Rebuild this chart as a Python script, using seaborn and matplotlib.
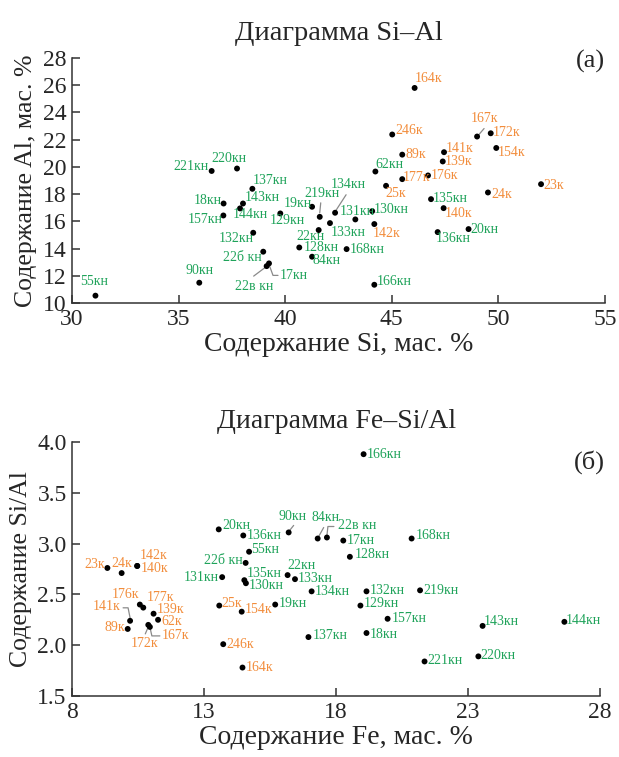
import numpy as np
import pandas as pd
import seaborn as sns
import matplotlib
matplotlib.use("Agg")
import matplotlib.pyplot as plt
import matplotlib.transforms as mtransforms
from matplotlib.lines import Line2D

sns.set_style("ticks")
plt.rcParams['font.family'] = ['Liberation Serif', 'DejaVu Serif']

GREEN = '#1fa35a'
ORANGE = '#f28d3c'

# (а) Si - Al
labels_a = ['221кн', '220кн', '164к', '246к', '167к', '172к', '154к', '89к', '141к', '139к',
            '62кн', '177к', '176к', '137кн', '18кн', '143кн', '144кн', '157кн', '129кн', '19кн',
            '219кн', '134кн', '132кн', '22кн', '133кн', '131кн', '130кн', '142к', '168кн', '166кн',
            '25к', '135кн', '140к', '136кн', '20кн', '24к', '23к', '22б кн', '22в кн', '17кн',
            '128кн', '84кн', '90кн', '55кн']
si_a = [36.55, 37.74, 46.07, 45.02, 49.00, 49.64, 49.90, 45.49, 47.45, 47.39,
        44.23, 45.49, 46.70, 38.46, 37.11, 38.02, 37.88, 37.10, 39.77, 41.26,
        41.62, 42.34, 38.50, 41.57, 42.10, 43.29, 44.08, 44.18, 42.88, 44.18,
        44.73, 46.84, 47.43, 47.15, 48.60, 49.51, 52.00, 38.97, 39.13, 39.24,
        40.66, 41.26, 35.97, 31.10]
al_a = [19.70, 19.88, 25.80, 22.38, 22.23, 22.47, 21.39, 20.90, 21.08, 20.40,
        19.66, 19.10, 19.37, 18.39, 17.31, 17.31, 16.95, 16.43, 16.58, 17.07,
        16.33, 16.63, 15.16, 15.36, 15.87, 16.14, 16.75, 15.80, 13.96, 11.34,
        18.61, 17.63, 16.97, 15.21, 15.43, 18.12, 18.73, 13.77, 12.71, 12.91,
        14.08, 13.40, 11.49, 10.54]

# (б) Fe - Si/Al
labels_b = ['20кн', '136кн', '55кн', '23к', '24к', '142к', '140к', '22б кн', '131кн', '135кн',
            '130кн', '176к', '177к', '139к', '62к', '141к', '89к', '172к', '167к', '25к',
            '154к', '246к', '164к', '166кн', '90кн', '84кн', '22в кн', '17кн', '128кн', '22кн',
            '133кн', '134кн', '132кн', '129кн', '19кн', '137кн', '18кн', '157кн', '219кн', '168кн',
            '221кн', '220кн', '143кн', '144кн']
fe_b = [13.55, 14.48, 14.70, 9.33, 9.87, 10.46, 10.46, 14.57, 13.68, 14.52,
        14.58, 10.56, 10.69, 11.08, 11.25, 10.19, 10.10, 10.88, 10.94, 13.57,
        14.42, 13.72, 14.45, 19.04, 16.20, 17.30, 17.65, 18.27, 18.52, 16.16,
        16.44, 17.07, 19.15, 18.92, 15.69, 16.95, 19.15, 19.95, 21.18, 20.86,
        21.35, 23.39, 23.55, 26.65]
ratio_b = [3.14, 3.08, 2.92, 2.76, 2.71, 2.78, 2.78, 2.81, 2.67, 2.64,
           2.61, 2.40, 2.37, 2.31, 2.25, 2.24, 2.16, 2.20, 2.18, 2.39,
           2.33, 2.01, 1.78, 3.88, 3.11, 3.05, 3.06, 3.03, 2.87, 2.69,
           2.65, 2.53, 2.53, 2.39, 2.40, 2.08, 2.12, 2.26, 2.54, 3.05,
           1.84, 1.89, 2.19, 2.23]

# label placement: (dx, dy, ha) in pixels, dy downwards
offsets_a = {
    '221кн': (-3, -4, 'right'), '220кн': (-8, -10, 'center'), '164к': (0, -9, 'left'),
    '246к': (3, -4, 'left'), '167к': (7, -18, 'center'), '172к': (2, -1, 'left'),
    '154к': (1, 5, 'left'), '89к': (3, 0, 'left'), '141к': (2, -4, 'left'),
    '139к': (2, 0, 'left'), '62кн': (0, -7, 'left'), '177к': (0, -2, 'left'),
    '176к': (3, 0, 'left'), '137кн': (0, -8, 'left'), '18кн': (-2, -3, 'right'),
    '143кн': (2, -6, 'left'), '144кн': (10, 6, 'center'), '157кн': (-1, 4, 'right'),
    '129кн': (7, 7, 'center'), '19кн': (0, -3, 'right'), '219кн': (2, -23, 'center'),
    '134кн': (13.5, -28.7, 'center'), '132кн': (1, 6, 'right'), '22кн': (-8, 6, 'center'),
    '133кн': (1, 9, 'left'), '131кн': (2, -8, 'center'), '130кн': (2, -2, 'left'),
    '142к': (-2, 9, 'left'), '168кн': (3, 0, 'left'), '166кн': (2, -3, 'left'),
    '25к': (-1, 8, 'left'), '135кн': (2, -1, 'left'), '140к': (1, 5, 'left'),
    '136кн': (-2, 6, 'left'), '20кн': (2, 0, 'left'), '24к': (3, 2, 'left'),
    '23к': (2, 1, 'left'), '22б кн': (-1, 6, 'right'), '22в кн': (-12, 20, 'center'),
    '17кн': (11, 12, 'left'), '128кн': (4, 0, 'left'), '84кн': (0, 4, 'left'),
    '90кн': (0, -12, 'center'), '55кн': (-1, -14, 'center'),
}
leaders_a = {
    '167к': [(1, -1), (7, -8)],
    '219кн': [(0, -4), (1, -14)],
    '134кн': [(0, -1), (11, -18)],
    '17кн': [(0, 1), (4, 12), (9, 12)],
    '22в кн': [(-1, 1), (-13, 10)],
}
offsets_b = {
    '20кн': (4, -4, 'left'), '136кн': (3, 0, 'left'), '55кн': (2, -2, 'left'),
    '23к': (-2, -3, 'right'), '24к': (0, -10, 'center'), '142к': (3, -10, 'left'),
    '140к': (4, 3, 'left'), '22б кн': (-3, -2, 'right'), '131кн': (-3, 0, 'right'),
    '135кн': (2, -7, 'left'), '130кн': (3, 2, 'left'), '176к': (-1, -10, 'right'),
    '177к': (3, -10, 'left'), '139к': (3, -4, 'left'), '62к': (3, 2, 'left'),
    '141к': (-10, -14, 'right'), '89к': (-3, -1, 'right'), '172к': (-4, 19, 'center'),
    '167к': (12, 9, 'left'), '25к': (2, -2, 'left'), '154к': (3, -2, 'left'),
    '246к': (3, 0, 'left'), '164к': (3, 0, 'left'), '166кн': (3, 0, 'left'),
    '90кн': (4, -16, 'center'), '84кн': (8, -21, 'center'), '22в кн': (11, -12, 'left'),
    '17кн': (3, 0, 'left'), '128кн': (5, -2, 'left'), '22кн': (0, -10, 'left'),
    '133кн': (3, -1, 'left'), '134кн': (3, 0, 'left'), '132кн': (3, -1, 'left'),
    '129кн': (3, -2, 'left'), '19кн': (4, -1, 'left'), '137кн': (4, -2, 'left'),
    '18кн': (3, 1, 'left'), '157кн': (4, 0, 'left'), '219кн': (3, 0, 'left'),
    '168кн': (4, -3, 'left'), '221кн': (3, -1, 'left'), '220кн': (2, -1, 'left'),
    '143кн': (1, -4, 'left'), '144кн': (1, -1, 'left'),
}
leaders_b = {
    '141к': [(-7, -13), (-2, -13), (0, -3)],
    '167к': [(0, 0), (2, 9), (10, 9)],
    '172к': [(-3, 9), (0, 2)],
    '90кн': [(1, -2), (5, -7)],
    '84кн': [(1, -2), (6, -11)],
    '22в кн': [(0, -2), (1, -11), (7, -11)],
}


def draw(ax, df, xcol, ycol, offsets, leaders):
    sns.scatterplot(data=df, x=xcol, y=ycol, color='black', s=18, edgecolor='none',
                    ax=ax, legend=False, zorder=3)
    for _, r in df.iterrows():
        lab = r['label']
        c = GREEN if lab.endswith('кн') else ORANGE
        dx, dy, ha = offsets[lab]
        ax.annotate(lab, (r[xcol], r[ycol]), xytext=(dx, -dy), textcoords='offset pixels',
                    ha=ha, va='center', fontsize=10, color=c, annotation_clip=False)
        if lab in leaders:
            pts = leaders[lab]
            tr = mtransforms.ScaledTranslation(r[xcol], r[ycol], ax.transData)
            ax.add_line(Line2D([p[0] for p in pts], [-p[1] for p in pts], transform=tr,
                               color='#8a8a8a', lw=0.9, clip_on=False))


def style(ax):
    sns.despine(ax=ax)
    for s in ['left', 'bottom']:
        ax.spines[s].set_linewidth(1.1)
        ax.spines[s].set_color('#333333')
    ax.tick_params(direction='in', length=6, width=1.1, labelsize=17, pad=4, color='#333333')


fig = plt.figure(figsize=(6.19, 7.57), dpi=100)
W, H = 619, 757
ax1 = fig.add_axes([72 / W, 1 - 303 / H, (605 - 72) / W, (303 - 58) / H])
ax2 = fig.add_axes([72.3 / W, 1 - 696 / H, (600 - 72.3) / W, (696 - 442) / H])

df_a = pd.DataFrame({'label': labels_a, 'Si': si_a, 'Al': al_a})
df_b = pd.DataFrame({'label': labels_b, 'Fe': fe_b, 'SiAl': ratio_b})

draw(ax1, df_a, 'Si', 'Al', offsets_a, leaders_a)
ax1.set_xlim(30, 55)
ax1.set_ylim(10, 28)
ax1.set_xticks(np.arange(30, 56, 5))
ax1.set_yticks(np.arange(10, 29, 2))
style(ax1)
ax1.set_xlabel('Содержание Si, мас. %', fontsize=20, labelpad=2)
ax1.set_ylabel('Содержание Al, мас. %', fontsize=18.5, labelpad=4)
ax1.set_title('Диаграмма Si–Al', fontsize=20.5, pad=13)
ax1.text(1.0, 0.984, '(а)', transform=ax1.transAxes, ha='right', va='center', fontsize=19)

draw(ax2, df_b, 'Fe', 'SiAl', offsets_b, leaders_b)
ax2.set_xlim(8, 28)
ax2.set_ylim(1.5, 4.0)
ax2.set_xticks([8, 13, 18, 23, 28])
ax2.set_yticks(np.arange(1.5, 4.01, 0.5))
ax2.set_yticklabels(['%.1f' % v for v in np.arange(1.5, 4.01, 0.5)])
style(ax2)
ax2.set_xlabel('Содержание Fe, мас. %', fontsize=20, labelpad=2)
ax2.set_ylabel('Содержание Si/Al', fontsize=18.5, labelpad=4)
ax2.set_title('Диаграмма Fe–Si/Al', fontsize=20, pad=10)
ax2.text(1.009, 0.921, '(б)', transform=ax2.transAxes, ha='right', va='center', fontsize=19)

fig.savefig('out.png', dpi=100)
